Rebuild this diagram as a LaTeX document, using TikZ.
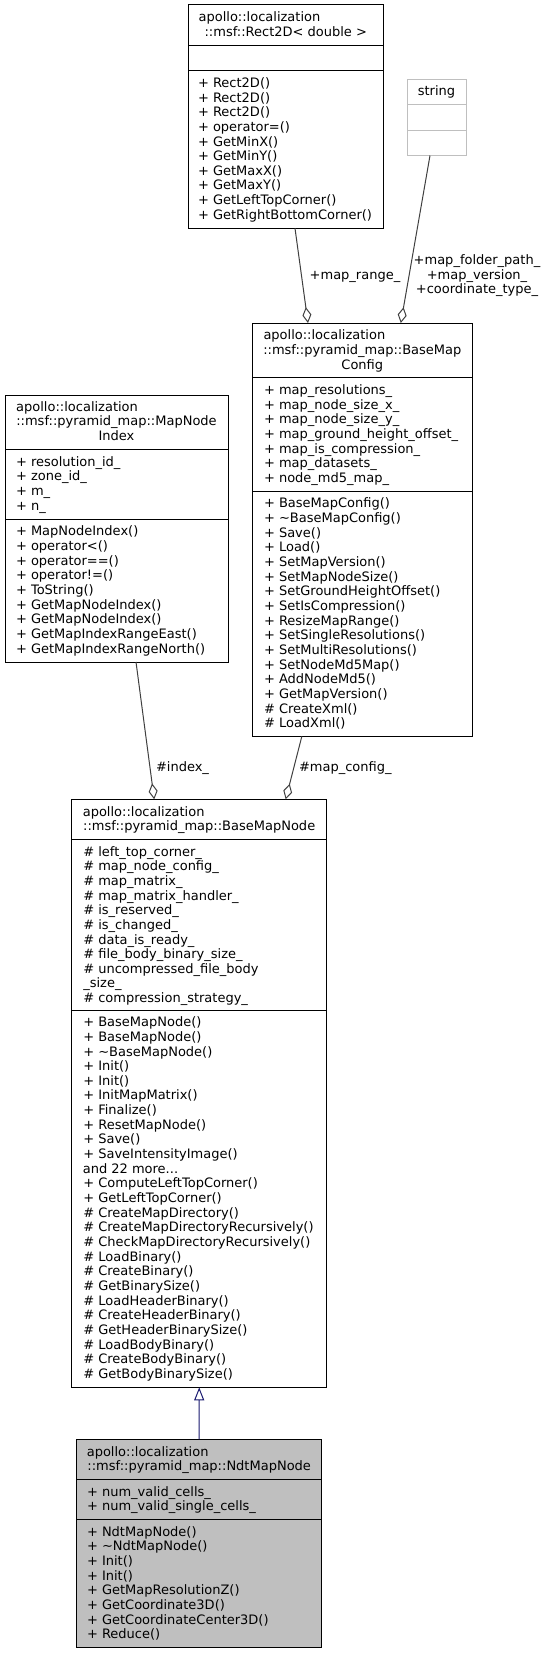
\documentclass[tikz,border=0pt]{standalone}
\usepackage{fontspec}
\setmainfont{DejaVu Sans}
\usetikzlibrary{arrows.meta}
\definecolor{edgegrey}{HTML}{404040}
\definecolor{lightgrey}{HTML}{BFBFBF}
\definecolor{inhblue}{HTML}{191970}
\tikzset{
  txt/.style={inner sep=0pt, outer sep=0pt, font=\fontsize{13bp}{14.65bp}\selectfont},
  umlbox/.style={draw=black, line width=1bp, inner sep=0pt, outer sep=0pt, anchor=north west, fill=white},
  sepline/.style={draw=black, line width=1bp},
  agg/.style={draw=edgegrey, line width=1bp, -{Diamond[open, length=16bp, width=9bp]}},
  inh/.style={draw=inhblue, line width=1bp, -{Triangle[open, length=13bp, width=10bp]}},
}
\newcommand\memlist[4]{\foreach \lbl [count=\i] in {#4} {\node[txt, anchor=base west] (#1\i) at (#2, {#3+14.65*(\i-1)}) {\lbl};}}
\begin{document}
\begin{tikzpicture}[x=1bp,y=-1bp]
\fill[white] (0,0) rectangle (549,1653);
\useasboundingbox (0,0) rectangle (549,1653);

% ---------- Rect2D ----------
\node[umlbox, minimum width=195bp, minimum height=223.3bp] (rect) at (188.3,5) {};
\draw[sepline] ([yshift=-40.2bp]rect.north west) -- ([yshift=-40.2bp]rect.north east);
\draw[sepline] ([yshift=-65.7bp]rect.north west) -- ([yshift=-65.7bp]rect.north east);
\node[txt, anchor=base west] (rectT1) at (198.6,21.7) {apollo::localization};
\node[txt, anchor=base] (rectT2) at (285.8,36.35) {::msf::Rect2D< double >};
\memlist{rectM}{198}{87.4}{+ Rect2D(),+ Rect2D(),+ Rect2D(),+ operator=(),+ GetMinX(),+ GetMinY(),+ GetMaxX(),+ GetMaxY(),+ GetLeftTopCorner(),+ GetRightBottomCorner()}

% ---------- string ----------
\node[umlbox, draw=lightgrey, minimum width=59bp, minimum height=76.5bp] (str) at (407,79) {};
\draw[sepline, draw=lightgrey] ([yshift=-25.5bp]str.north west) -- ([yshift=-25.5bp]str.north east);
\draw[sepline, draw=lightgrey] ([yshift=-51bp]str.north west) -- ([yshift=-51bp]str.north east);
\node[txt, anchor=base] (strT) at (436.5,95.7) {string};

% ---------- BaseMapConfig ----------
\node[umlbox, minimum width=220bp, minimum height=413.5bp] (cfg) at (252.3,323) {};
\draw[sepline] ([yshift=-54.8bp]cfg.north west) -- ([yshift=-54.8bp]cfg.north east);
\draw[sepline] ([yshift=-168.2bp]cfg.north west) -- ([yshift=-168.2bp]cfg.north east);
\node[txt, anchor=base west] (cfgT1) at (263.5,339.7) {apollo::localization};
\node[txt, anchor=base] (cfgT2) at (362.3,354.35) {::msf::pyramid\_map::BaseMap};
\node[txt, anchor=base] (cfgT3) at (362.3,369) {Config};
\memlist{cfgA}{264}{394.5}{+ map\_resolutions\_,+ map\_node\_size\_x\_,+ map\_node\_size\_y\_,+ map\_ground\_height\_offset\_,+ map\_is\_compression\_,+ map\_datasets\_,+ node\_md5\_map\_}
\memlist{cfgM}{264}{507.9}{+ BaseMapConfig(),+ \textasciitilde BaseMapConfig(),+ Save(),+ Load(),+ SetMapVersion(),+ SetMapNodeSize(),+ SetGroundHeightOffset(),+ SetIsCompression(),+ ResizeMapRange(),+ SetSingleResolutions(),+ SetMultiResolutions(),+ SetNodeMd5Map(),+ AddNodeMd5(),+ GetMapVersion(),\# CreateXml(),\# LoadXml()}

% ---------- MapNodeIndex ----------
\node[umlbox, minimum width=223bp, minimum height=267bp] (idx) at (5,395) {};
\draw[sepline] ([yshift=-54.8bp]idx.north west) -- ([yshift=-54.8bp]idx.north east);
\draw[sepline] ([yshift=-124.25bp]idx.north west) -- ([yshift=-124.25bp]idx.north east);
\node[txt, anchor=base west] (idxT1) at (16.2,411.2) {apollo::localization};
\node[txt, anchor=base] (idxT2) at (116.5,425.85) {::msf::pyramid\_map::MapNode};
\node[txt, anchor=base] (idxT3) at (116.5,440.5) {Index};
\memlist{idxA}{16}{466.3}{+ resolution\_id\_,+ zone\_id\_,+ m\_,+ n\_}
\memlist{idxM}{16}{535.8}{+ MapNodeIndex(),+ operator<(),+ operator==(),+ operator!=(),+ ToString(),+ GetMapNodeIndex(),+ GetMapNodeIndex(),+ GetMapIndexRangeEast(),+ GetMapIndexRangeNorth()}

% ---------- BaseMapNode ----------
\node[umlbox, minimum width=255bp, minimum height=588bp] (bmn) at (71.7,799.3) {};
\draw[sepline] ([yshift=-40.1bp]bmn.north west) -- ([yshift=-40.1bp]bmn.north east);
\draw[sepline] ([yshift=-210.7bp]bmn.north west) -- ([yshift=-210.7bp]bmn.north east);
\node[txt, anchor=base west] (bmnT1) at (82.8,816) {apollo::localization};
\node[txt, anchor=base] (bmnT2) at (199.2,830.65) {::msf::pyramid\_map::BaseMapNode};
\memlist{bmnA}{83.3}{856.1}{\# left\_top\_corner\_,\# map\_node\_config\_,\# map\_matrix\_,\# map\_matrix\_handler\_,\# is\_reserved\_,\# is\_changed\_,\# data\_is\_ready\_,\# file\_body\_binary\_size\_,\# uncompressed\_file\_body,\_size\_,\# compression\_strategy\_}
\memlist{bmnM}{83.3}{1026.7}{+ BaseMapNode(),+ BaseMapNode(),+ \textasciitilde BaseMapNode(),+ Init(),+ Init(),+ InitMapMatrix(),+ Finalize(),+ ResetMapNode(),+ Save(),+ SaveIntensityImage()}
\node[txt, anchor=base west] (bmnMore) at (82.8,1173.2) {and 22 more...};
\memlist{bmnN}{83.3}{1187.85}{+ ComputeLeftTopCorner(),+ GetLeftTopCorner(),\# CreateMapDirectory(),\# CreateMapDirectoryRecursively(),\# CheckMapDirectoryRecursively(),\# LoadBinary(),\# CreateBinary(),\# GetBinarySize(),\# LoadHeaderBinary(),\# CreateHeaderBinary(),\# GetHeaderBinarySize(),\# LoadBodyBinary(),\# CreateBodyBinary(),\# GetBodyBinarySize()}

% ---------- NdtMapNode ----------
\node[umlbox, fill=lightgrey, minimum width=245bp, minimum height=208.2bp] (ndt) at (76.7,1439.3) {};
\draw[sepline] ([yshift=-40.1bp]ndt.north west) -- ([yshift=-40.1bp]ndt.north east);
\draw[sepline] ([yshift=-80.2bp]ndt.north west) -- ([yshift=-80.2bp]ndt.north east);
\node[txt, anchor=base west] (ndtT1) at (86.8,1456) {apollo::localization};
\node[txt, anchor=base] (ndtT2) at (199.2,1470.65) {::msf::pyramid\_map::NdtMapNode};
\memlist{ndtA}{87}{1496.1}{+ num\_valid\_cells\_,+ num\_valid\_single\_cells\_}
\memlist{ndtM}{87}{1536.2}{+ NdtMapNode(),+ \textasciitilde NdtMapNode(),+ Init(),+ Init(),+ GetMapResolutionZ(),+ GetCoordinate3D(),+ GetCoordinateCenter3D(),+ Reduce()}

% ---------- connectors ----------
\draw[agg] ([xshift=106.7bp]rect.south west) -- ([xshift=55.7bp]cfg.north west);
\draw[agg] ([xshift=23bp]str.south west) -- ([xshift=148.5bp]cfg.north west);
\draw[agg] ([xshift=131bp]idx.south west) -- ([xshift=82.5bp]bmn.north west);
\draw[agg] ([xshift=49.5bp]cfg.south west) -- ([xshift=214bp]bmn.north west);
\draw[inh] (ndt.north) -- (bmn.south);

% ---------- labels ----------
\node[txt, anchor=base] (lrange) at (355,279) {+map\_range\_};
\node[txt, anchor=base] (lstr1) at (477,264.5) {+map\_folder\_path\_};
\node[txt, anchor=base] (lstr2) at (477,279) {+map\_version\_};
\node[txt, anchor=base] (lstr3) at (477,293.5) {+coordinate\_type\_};
\node[txt, anchor=base west] (lidx) at (156,771) {\#index\_};
\node[txt, anchor=base west] (lcfg) at (299,771) {\#map\_config\_};
\end{tikzpicture}
\end{document}
